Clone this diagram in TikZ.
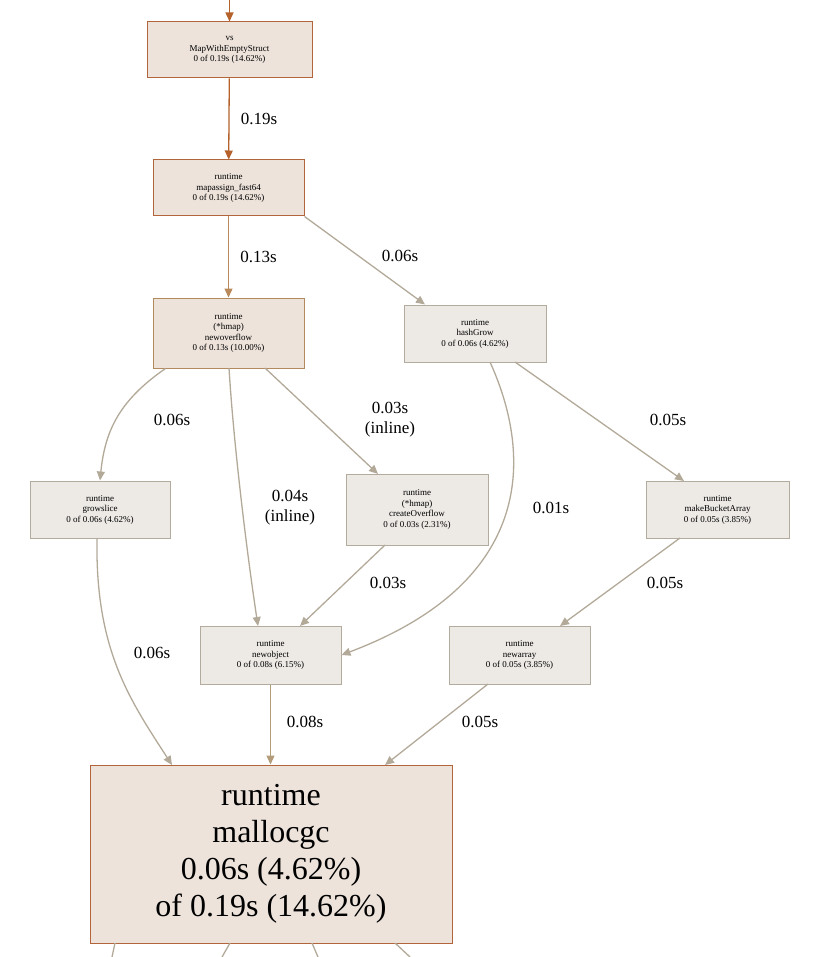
\documentclass[tikz,border=0pt]{standalone}
\usepackage{fontspec}
\setmainfont{Liberation Serif}
\usetikzlibrary{arrows.meta}
\definecolor{hotb}{HTML}{B2643A}
\definecolor{hotf}{HTML}{EDE3DB}
\definecolor{medb}{HTML}{B28A5E}
\definecolor{coolb}{HTML}{B2AB9E}
\definecolor{coolf}{HTML}{EDEAE6}
\definecolor{e1}{HTML}{B5612B}
\definecolor{e2}{HTML}{B8895A}
\definecolor{e3}{HTML}{B2A999}
\definecolor{e4}{HTML}{B39C7A}
\tikzset{
 box/.style={draw=#1, line width=1pt, align=center, inner sep=0pt, font=\fontsize{9}{10.5}\selectfont},
 edge/.style={draw=#1, line width=1.3pt, -{Triangle[length=9pt,width=8pt]}},
 lab/.style={font=\fontsize{17}{20}\selectfont, align=center},
}
\begin{document}
\begin{tikzpicture}[x=1pt,y=-1pt]
\useasboundingbox (0,0) rectangle (812,957);
\newcommand\mybox[6]{\node[box=#6, fill=#5, minimum width=#3pt, minimum height=#4pt] (#1) at #2 {};}
% nodes
\node[box=hotb, fill=hotf, minimum width=165pt, minimum height=56pt] (vs) at (229.5,50) {vs\\MapWithEmptyStruct\\0 of 0.19s (14.62\%)};
\node[box=hotb, fill=hotf, minimum width=151pt, minimum height=56pt] (ma) at (228.5,188) {runtime\\mapassign\_fast64\\0 of 0.19s (14.62\%)};
\node[box=medb, fill=hotf, minimum width=151pt, minimum height=70pt] (no) at (228.5,333) {runtime\\(*hmap)\\newoverflow\\0 of 0.13s (10.00\%)};
\node[box=coolb, fill=coolf, minimum width=142pt, minimum height=57pt] (hg) at (475,333.5) {runtime\\hashGrow\\0 of 0.06s (4.62\%)};
\node[box=coolb, fill=coolf, minimum width=140pt, minimum height=57pt] (gs) at (100,509.5) {runtime\\growslice\\0 of 0.06s (4.62\%)};
\node[box=coolb, fill=coolf, minimum width=142pt, minimum height=71pt] (co) at (417,509.5) {runtime\\(*hmap)\\createOverflow\\0 of 0.03s (2.31\%)};
\node[box=coolb, fill=coolf, minimum width=143pt, minimum height=57pt] (mb) at (717.5,509.5) {runtime\\makeBucketArray\\0 of 0.05s (3.85\%)};
\node[box=coolb, fill=coolf, minimum width=141pt, minimum height=58pt] (nob) at (270.5,655) {runtime\\newobject\\0 of 0.08s (6.15\%)};
\node[box=coolb, fill=coolf, minimum width=141pt, minimum height=58pt] (na) at (519.5,655) {runtime\\newarray\\0 of 0.05s (3.85\%)};
\node[box=hotb, fill=hotf, minimum width=362pt, minimum height=178pt, font=\fontsize{32}{37}\selectfont] (mg) at (271,854) {runtime\\mallocgc\\0.06s (4.62\%)\\of 0.19s (14.62\%)};
\coordinate (top) at (229.5,0);
\coordinate (b1) at (112,957);
\coordinate (b2) at (222,957);
\coordinate (b3) at (318,957);
\coordinate (b4) at (410,957);
% edges
\draw[edge=e1] (top) -- (vs);
\draw[edge=e1] (vs) -- node[lab, right=8pt]{0.19s} (ma);
\draw[edge=e2] (ma) -- node[lab, right=8pt]{0.13s} (no);
\draw[edge=e3] (ma.south east) -- (hg.north -| 425,0);
\node[lab] at (400,256) {0.06s};
\draw[edge=e3] (no.south west) ++(13,0) .. controls (120,400) and (105,430) .. (gs.north);
\node[lab] at (172,420) {0.06s};
\draw[edge=e3] (229,368) .. controls (234,450) and (248,560) .. (258,626);
\node[lab] at (290,508) {0.04s\\(inline)};
\draw[edge=e3] (265,368) -- (378,474);
\node[lab] at (390,420) {0.03s\\(inline)};
\draw[edge=e3] (490,362) .. controls (530,450) and (540,580) .. (nob.east);
\node[lab] at (551,508) {0.01s};
\draw[edge=e3] (515,362) -- (684,481);
\node[lab] at (668,420) {0.05s};
\draw[edge=e3] (385,545) -- (300,626);
\node[lab] at (388,583) {0.03s};
\draw[edge=e3] (680,538) -- (560,626);
\node[lab] at (665,583) {0.05s};
\draw[edge=e3] (97,538) .. controls (95,650) and (130,700) .. (172,765);
\node[lab] at (152,653) {0.06s};
\draw[edge=e4] (nob) -- (nob.south |- mg.north);
\node[lab] at (305,722) {0.08s};
\draw[edge=e3] (488,684) -- (385,765);
\node[lab] at (480,722) {0.05s};
\draw[e3, line width=1.3pt] (115,943) -- (b1);
\draw[e3, line width=1.3pt] (230,943) -- (b2);
\draw[e3, line width=1.3pt] (312,943) -- (b3);
\draw[e3, line width=1.3pt] (395,943) -- (b4);
\end{tikzpicture}
\end{document}
